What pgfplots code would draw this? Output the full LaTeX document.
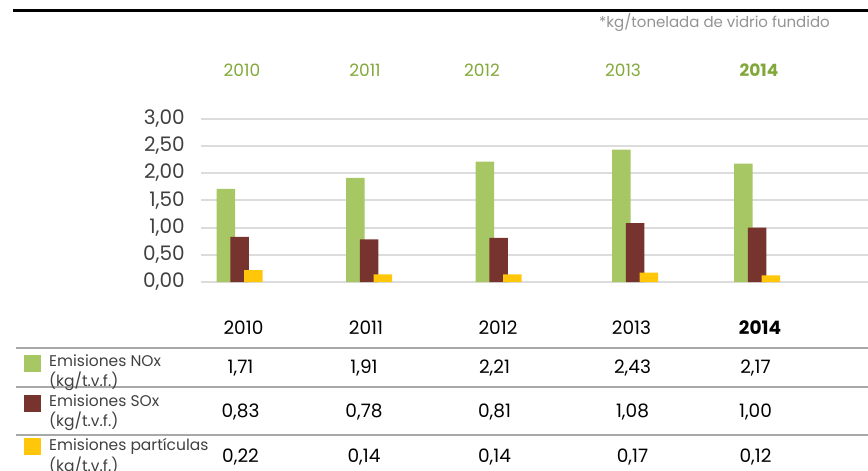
\documentclass[border=0pt]{standalone}
\usepackage{fontspec}
\setmainfont{Poppins}
\usepackage{pgfplots}
\pgfplotsset{compat=1.18}
\definecolor{gNOx}{HTML}{A6C764}
\definecolor{mSOx}{HTML}{77332E}
\definecolor{yPart}{HTML}{FFC60A}
\definecolor{yrgreen}{HTML}{82A83A}
\definecolor{gridc}{HTML}{DCDCDC}
\definecolor{tline}{HTML}{A8A8A8}
\definecolor{txt}{HTML}{404040}
\begin{document}
\begin{tikzpicture}
\useasboundingbox (0,0) rectangle (868bp,-471bp);
% top rule and note
\draw[black, line width=3bp] (13bp,-10.8bp) -- (868bp,-10.8bp);
\node[anchor=east, text=gray!85, font=\fontsize{15bp}{16bp}\selectfont, inner sep=0pt] at (830bp,-22bp) {*kg/tonelada de vidrio fundido};
% top year labels
\foreach \x/\y in {242/2010,365/2011,482/2012,623/2013}
  \node[text=yrgreen, font=\fontsize{17bp}{18bp}\selectfont, inner sep=0pt] at (\x bp,-70bp) {\y};
\node[text=yrgreen, font=\fontsize{17bp}{18bp}\selectfont\bfseries, inner sep=0pt] at (759bp,-70bp) {2014};
\begin{axis}[
  at={(201bp,-282bp)}, anchor=south west,
  scale only axis, width=667bp, height=163.5bp,
  xmin=201, xmax=868, ymin=0, ymax=3,
  ybar, bar width=18.5bp,
  axis line style={draw=none}, tick style={draw=none},
  xtick=\empty,
  ytick={0,0.5,1,1.5,2,2.5,3},
  ymajorgrids, grid style={gridc, line width=2bp},
  /pgf/number format/.cd, fixed, fixed zerofill, precision=2, use comma, assume math mode=true,
  /pgfplots/.cd,
  yticklabel style={font=\fontsize{20bp}{22bp}\selectfont, text=txt, inner sep=0pt, xshift=-16bp},
  clip=false,
]
\addplot[fill=gNOx, draw=none, bar shift=-13.7bp] coordinates {(239.5,1.71) (369,1.91) (498.5,2.21) (635,2.43) (757,2.17)};
\addplot[fill=mSOx, draw=none, bar shift=0bp] coordinates {(239.5,0.83) (369,0.78) (498.5,0.81) (635,1.08) (757,1.00)};
\addplot[fill=yPart, draw=none, bar shift=13.8bp] coordinates {(239.5,0.22) (369,0.14) (498.5,0.14) (635,0.17) (757,0.12)};
\end{axis}
% table
\foreach \yy in {348,387,435}
  \draw[tline, line width=2bp] (16bp,-\yy bp) -- (868bp,-\yy bp);
\foreach \x/\y in {243.5/2010,366/2011,498/2012,631.5/2013}
  \node[text=black, font=\fontsize{18.5bp}{20bp}\selectfont, inner sep=0pt] at (\x bp,-328bp) {\y};
\node[text=black, font=\fontsize{18.5bp}{20bp}\selectfont\bfseries, inner sep=0pt] at (760bp,-328bp) {2014};
\foreach \x/\a/\b/\c in {240.5/{1,71}/{0,83}/{0,22}, 364/{1,91}/{0,78}/{0,14}, 494.5/{2,21}/{0,81}/{0,14}, 632.5/{2,43}/{1,08}/{0,17}, 755.5/{2,17}/{1,00}/{0,12}}{
  \node[text=black, font=\fontsize{18.5bp}{20bp}\selectfont, inner sep=0pt] at (\x bp,-368bp) {\a};
  \node[text=black, font=\fontsize{18.5bp}{20bp}\selectfont, inner sep=0pt] at (\x bp,-412bp) {\b};
  \node[text=black, font=\fontsize{18.5bp}{20bp}\selectfont, inner sep=0pt] at (\x bp,-457bp) {\c};
}
% legend squares and labels
\fill[gNOx] (24bp,-355bp) rectangle (41bp,-372bp);
\fill[mSOx] (24bp,-395bp) rectangle (41bp,-412bp);
\fill[yPart] (24bp,-438bp) rectangle (41bp,-455bp);
\foreach \yy/\lab in {361/Emisiones NOx,401/Emisiones SOx,446/Emisiones partículas}{
  \node[anchor=west, text=txt, font=\fontsize{15.5bp}{17bp}\selectfont, inner sep=0pt] at (49bp,-\yy bp) {\lab};
  \node[anchor=west, text=txt, font=\fontsize{15.5bp}{17bp}\selectfont, inner sep=0pt] at (49bp,-\yy bp-20bp) {(kg/t.v.f.)};
}
\end{tikzpicture}
\end{document}
